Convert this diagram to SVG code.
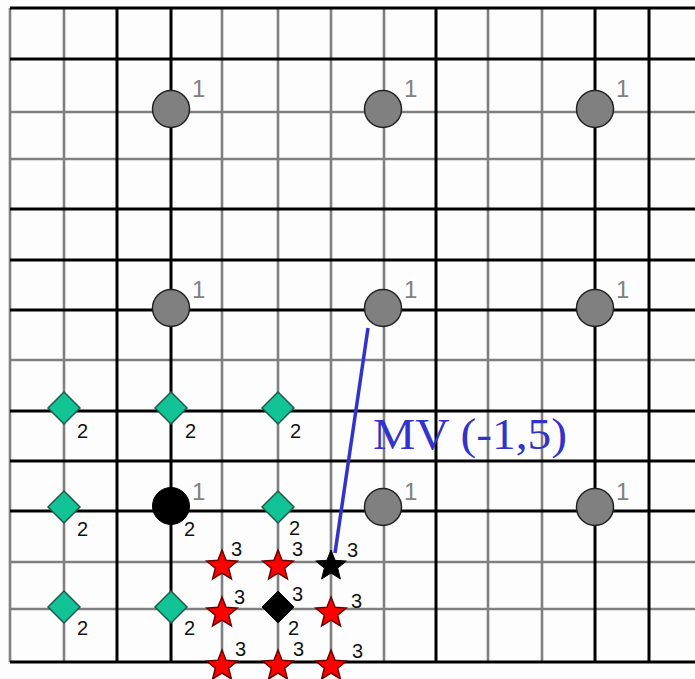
<svg xmlns="http://www.w3.org/2000/svg" width="695" height="679" viewBox="0 0 695 679">
<style>
.g{stroke:#808080;stroke-width:2.6}
.b{stroke:#000;stroke-width:3}
.gc{fill:#808080;stroke:#222;stroke-width:1.5}
.bc{fill:#000;stroke:#000;stroke-width:1}
.dm{fill:#12c396;stroke:#1f5a48;stroke-width:1.5}
.bd{fill:#000;stroke:#000;stroke-width:1}
.rs{fill:#ff0000;stroke:#6a0000;stroke-width:1.5}
.bs{fill:#000;stroke:#000;stroke-width:1}
.l1{font-family:"Liberation Sans",Arial,sans-serif;font-size:24px;fill:#808080}
.lb{font-family:"Liberation Sans",Arial,sans-serif;font-size:20px;fill:#111}
.mv{font-family:"Liberation Serif","Times New Roman",serif;font-size:45px;fill:#3333cc}
</style>
<defs>
<polygon id="star" points="0,-16 4.11,-5.66 15.22,-4.94 6.66,2.16 9.4,12.94 0,7 -9.4,12.94 -6.66,2.16 -15.22,-4.94 -4.11,-5.66"/>
<polygon id="dia" points="0,-16 16,0 0,16 -16,0"/>
</defs>
<rect width="695" height="679" fill="#fdfdfd"/>
<g id="grid">
<g class="g">
<line x1="10" y1="8" x2="10" y2="662"/>
<line x1="64" y1="8" x2="64" y2="662"/>
<line x1="222" y1="8" x2="222" y2="662"/>
<line x1="278" y1="8" x2="278" y2="662"/>
<line x1="331" y1="8" x2="331" y2="662"/>
<line x1="384" y1="8" x2="384" y2="662"/>
<line x1="488" y1="8" x2="488" y2="662"/>
<line x1="542" y1="8" x2="542" y2="662"/>
<line x1="10" y1="112" x2="695" y2="112"/>
<line x1="10" y1="159" x2="695" y2="159"/>
<line x1="10" y1="360" x2="695" y2="360"/>
<line x1="10" y1="562" x2="695" y2="562"/>
<line x1="10" y1="609" x2="695" y2="609"/>
</g>
<g class="b">
<line x1="117" y1="8" x2="117" y2="662"/>
<line x1="171" y1="8" x2="171" y2="662"/>
<line x1="436" y1="8" x2="436" y2="662"/>
<line x1="595" y1="8" x2="595" y2="662"/>
<line x1="649" y1="8" x2="649" y2="662"/>
<line x1="10" y1="8" x2="695" y2="8"/>
<line x1="10" y1="59" x2="695" y2="59"/>
<line x1="10" y1="209" x2="695" y2="209"/>
<line x1="10" y1="260" x2="695" y2="260"/>
<line x1="10" y1="310" x2="695" y2="310"/>
<line x1="10" y1="411" x2="695" y2="411"/>
<line x1="10" y1="461" x2="695" y2="461"/>
<line x1="10" y1="511" x2="695" y2="511"/>
<line x1="10" y1="662" x2="695" y2="662"/>
</g>
</g>
<g id="connectors">
<line x1="368" y1="328" x2="335" y2="553" stroke="#3333cc" stroke-width="3.5"/>
</g>
<g id="c1"><circle class="gc" cx="171" cy="109" r="18.5"/><text class="l1" x="192" y="97">1</text></g>
<g id="c2"><circle class="gc" cx="383" cy="109" r="18.5"/><text class="l1" x="404" y="97">1</text></g>
<g id="c3"><circle class="gc" cx="595" cy="109" r="18.5"/><text class="l1" x="616" y="97">1</text></g>
<g id="c4"><circle class="gc" cx="171" cy="308" r="18.5"/><text class="l1" x="192" y="298">1</text></g>
<g id="c5"><circle class="gc" cx="383" cy="308" r="18.5"/><text class="l1" x="404" y="298">1</text></g>
<g id="c6"><circle class="gc" cx="595" cy="308" r="18.5"/><text class="l1" x="616" y="298">1</text></g>
<g id="c7"><circle class="gc" cx="383" cy="507" r="18.5"/><text class="l1" x="404" y="500">1</text></g>
<g id="c8"><circle class="gc" cx="595" cy="507" r="18.5"/><text class="l1" x="616" y="500">1</text></g>
<g id="cb"><circle class="bc" cx="171" cy="506" r="18.5"/><text class="l1" x="192" y="500">1</text><text class="lb" x="184" y="536">2</text></g>
<g id="d1"><use href="#dia" class="dm" x="64" y="408"/><text class="lb" x="77" y="438">2</text></g>
<g id="d2"><use href="#dia" class="dm" x="171" y="408"/><text class="lb" x="185" y="438">2</text></g>
<g id="d3"><use href="#dia" class="dm" x="278" y="408"/><text class="lb" x="290" y="438">2</text></g>
<g id="d4"><use href="#dia" class="dm" x="64" y="507"/><text class="lb" x="77" y="536">2</text></g>
<g id="d5"><use href="#dia" class="dm" x="278" y="507"/><text class="lb" x="289" y="535">2</text></g>
<g id="d6"><use href="#dia" class="dm" x="64" y="607"/><text class="lb" x="77" y="635">2</text></g>
<g id="d7"><use href="#dia" class="dm" x="171" y="607"/><text class="lb" x="184" y="635">2</text></g>
<g id="db"><use href="#dia" class="bd" x="278" y="607"/><text class="lb" x="292" y="601">3</text><text class="lb" x="288" y="635">2</text></g>
<g id="s1"><use href="#star" class="rs" x="222" y="566"/><text class="lb" x="231" y="556">3</text></g>
<g id="s2"><use href="#star" class="rs" x="278" y="566"/><text class="lb" x="292" y="556">3</text></g>
<g id="sb"><use href="#star" class="bs" x="331" y="566"/><text class="lb" x="347" y="557">3</text></g>
<g id="s3"><use href="#star" class="rs" x="222" y="613"/><text class="lb" x="234" y="604">3</text></g>
<g id="s4"><use href="#star" class="rs" x="331" y="613"/><text class="lb" x="351" y="608">3</text></g>
<g id="s5"><use href="#star" class="rs" x="222" y="666"/><text class="lb" x="235" y="656">3</text></g>
<g id="s6"><use href="#star" class="rs" x="278" y="666"/><text class="lb" x="293" y="656">3</text></g>
<g id="s7"><use href="#star" class="rs" x="331" y="666"/><text class="lb" x="352" y="658">3</text></g>
<g id="mvlabel"><text class="mv" x="373" y="449" textLength="194" lengthAdjust="spacingAndGlyphs">MV (-1,5)</text></g>
</svg>
